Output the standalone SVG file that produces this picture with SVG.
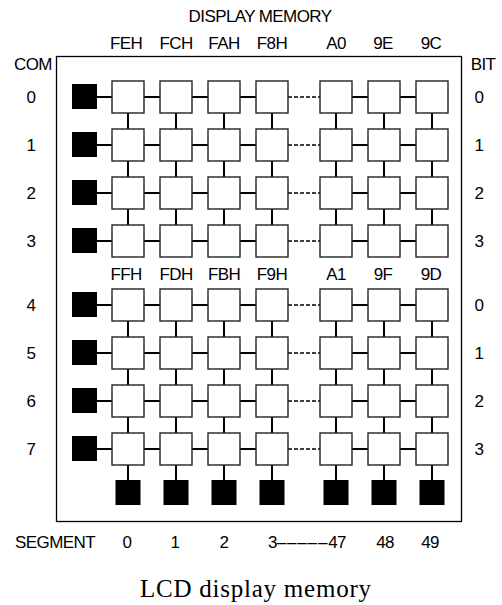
<svg xmlns="http://www.w3.org/2000/svg" width="502" height="605" viewBox="0 0 502 605">
<style>
.t{font-family:"Liberation Sans",Arial,sans-serif;font-size:17px;letter-spacing:-0.6px;fill:#000;text-anchor:middle}
.cap{font-family:"Liberation Serif","Times New Roman",serif;font-size:25px;fill:#000}
.cell{fill:#fff;stroke:#222;stroke-width:1.4}
.blk{fill:#000}
.con{fill:none;stroke:#000;stroke-width:2}
.dash{fill:none;stroke:#000;stroke-width:1.5;stroke-dasharray:4 2}
.frame{fill:none;stroke:#000;stroke-width:1.3}
</style>
<rect width="502" height="605" fill="#fff"/>
<g id="frame"><rect class="frame" x="56.5" y="56.5" width="405" height="465"/></g>
<g id="connectors">
<path class="con" d="M97 97H112M144 97H160M192 97H208M240 97H256M352 97H368M400 97H416"/>
<path class="con" d="M97 145H112M144 145H160M192 145H208M240 145H256M352 145H368M400 145H416"/>
<path class="con" d="M97 193H112M144 193H160M192 193H208M240 193H256M352 193H368M400 193H416"/>
<path class="con" d="M97 241H112M144 241H160M192 241H208M240 241H256M352 241H368M400 241H416"/>
<path class="con" d="M97 305H112M144 305H160M192 305H208M240 305H256M352 305H368M400 305H416"/>
<path class="con" d="M97 353H112M144 353H160M192 353H208M240 353H256M352 353H368M400 353H416"/>
<path class="con" d="M97 401H112M144 401H160M192 401H208M240 401H256M352 401H368M400 401H416"/>
<path class="con" d="M97 449H112M144 449H160M192 449H208M240 449H256M352 449H368M400 449H416"/>
<path class="dash" d="M288 97H320M288 145H320M288 193H320M288 241H320M288 305H320M288 353H320M288 401H320M288 449H320"/>
<path class="con" d="M128 113V129M128 161V177M128 209V225M128 321V337M128 369V385M128 417V433M128 465V480"/>
<path class="con" d="M176 113V129M176 161V177M176 209V225M176 321V337M176 369V385M176 417V433M176 465V480"/>
<path class="con" d="M224 113V129M224 161V177M224 209V225M224 321V337M224 369V385M224 417V433M224 465V480"/>
<path class="con" d="M272 113V129M272 161V177M272 209V225M272 321V337M272 369V385M272 417V433M272 465V480"/>
<path class="con" d="M336 113V129M336 161V177M336 209V225M336 321V337M336 369V385M336 417V433M336 465V480"/>
<path class="con" d="M384 113V129M384 161V177M384 209V225M384 321V337M384 369V385M384 417V433M384 465V480"/>
<path class="con" d="M432 113V129M432 161V177M432 209V225M432 321V337M432 369V385M432 417V433M432 465V480"/>
</g>
<g id="com-drivers">
<g id="com0"><rect class="blk" x="72" y="84" width="25" height="25"/></g>
<g id="com1"><rect class="blk" x="72" y="132" width="25" height="25"/></g>
<g id="com2"><rect class="blk" x="72" y="180" width="25" height="25"/></g>
<g id="com3"><rect class="blk" x="72" y="228" width="25" height="25"/></g>
<g id="com4"><rect class="blk" x="72" y="292" width="25" height="25"/></g>
<g id="com5"><rect class="blk" x="72" y="340" width="25" height="25"/></g>
<g id="com6"><rect class="blk" x="72" y="388" width="25" height="25"/></g>
<g id="com7"><rect class="blk" x="72" y="436" width="25" height="25"/></g>
</g>
<g id="seg-drivers">
<g id="seg0"><rect class="blk" x="115.5" y="480" width="25" height="25"/></g>
<g id="seg1"><rect class="blk" x="163.5" y="480" width="25" height="25"/></g>
<g id="seg2"><rect class="blk" x="211.5" y="480" width="25" height="25"/></g>
<g id="seg3"><rect class="blk" x="259.5" y="480" width="25" height="25"/></g>
<g id="seg47"><rect class="blk" x="323.5" y="480" width="25" height="25"/></g>
<g id="seg48"><rect class="blk" x="371.5" y="480" width="25" height="25"/></g>
<g id="seg49"><rect class="blk" x="419.5" y="480" width="25" height="25"/></g>
</g>
<g id="cells">
<g id="r0c0"><rect class="cell" x="112" y="81" width="32" height="32"/></g>
<g id="r0c1"><rect class="cell" x="160" y="81" width="32" height="32"/></g>
<g id="r0c2"><rect class="cell" x="208" y="81" width="32" height="32"/></g>
<g id="r0c3"><rect class="cell" x="256" y="81" width="32" height="32"/></g>
<g id="r0c4"><rect class="cell" x="320" y="81" width="32" height="32"/></g>
<g id="r0c5"><rect class="cell" x="368" y="81" width="32" height="32"/></g>
<g id="r0c6"><rect class="cell" x="416" y="81" width="32" height="32"/></g>
<g id="r1c0"><rect class="cell" x="112" y="129" width="32" height="32"/></g>
<g id="r1c1"><rect class="cell" x="160" y="129" width="32" height="32"/></g>
<g id="r1c2"><rect class="cell" x="208" y="129" width="32" height="32"/></g>
<g id="r1c3"><rect class="cell" x="256" y="129" width="32" height="32"/></g>
<g id="r1c4"><rect class="cell" x="320" y="129" width="32" height="32"/></g>
<g id="r1c5"><rect class="cell" x="368" y="129" width="32" height="32"/></g>
<g id="r1c6"><rect class="cell" x="416" y="129" width="32" height="32"/></g>
<g id="r2c0"><rect class="cell" x="112" y="177" width="32" height="32"/></g>
<g id="r2c1"><rect class="cell" x="160" y="177" width="32" height="32"/></g>
<g id="r2c2"><rect class="cell" x="208" y="177" width="32" height="32"/></g>
<g id="r2c3"><rect class="cell" x="256" y="177" width="32" height="32"/></g>
<g id="r2c4"><rect class="cell" x="320" y="177" width="32" height="32"/></g>
<g id="r2c5"><rect class="cell" x="368" y="177" width="32" height="32"/></g>
<g id="r2c6"><rect class="cell" x="416" y="177" width="32" height="32"/></g>
<g id="r3c0"><rect class="cell" x="112" y="225" width="32" height="32"/></g>
<g id="r3c1"><rect class="cell" x="160" y="225" width="32" height="32"/></g>
<g id="r3c2"><rect class="cell" x="208" y="225" width="32" height="32"/></g>
<g id="r3c3"><rect class="cell" x="256" y="225" width="32" height="32"/></g>
<g id="r3c4"><rect class="cell" x="320" y="225" width="32" height="32"/></g>
<g id="r3c5"><rect class="cell" x="368" y="225" width="32" height="32"/></g>
<g id="r3c6"><rect class="cell" x="416" y="225" width="32" height="32"/></g>
<g id="r4c0"><rect class="cell" x="112" y="289" width="32" height="32"/></g>
<g id="r4c1"><rect class="cell" x="160" y="289" width="32" height="32"/></g>
<g id="r4c2"><rect class="cell" x="208" y="289" width="32" height="32"/></g>
<g id="r4c3"><rect class="cell" x="256" y="289" width="32" height="32"/></g>
<g id="r4c4"><rect class="cell" x="320" y="289" width="32" height="32"/></g>
<g id="r4c5"><rect class="cell" x="368" y="289" width="32" height="32"/></g>
<g id="r4c6"><rect class="cell" x="416" y="289" width="32" height="32"/></g>
<g id="r5c0"><rect class="cell" x="112" y="337" width="32" height="32"/></g>
<g id="r5c1"><rect class="cell" x="160" y="337" width="32" height="32"/></g>
<g id="r5c2"><rect class="cell" x="208" y="337" width="32" height="32"/></g>
<g id="r5c3"><rect class="cell" x="256" y="337" width="32" height="32"/></g>
<g id="r5c4"><rect class="cell" x="320" y="337" width="32" height="32"/></g>
<g id="r5c5"><rect class="cell" x="368" y="337" width="32" height="32"/></g>
<g id="r5c6"><rect class="cell" x="416" y="337" width="32" height="32"/></g>
<g id="r6c0"><rect class="cell" x="112" y="385" width="32" height="32"/></g>
<g id="r6c1"><rect class="cell" x="160" y="385" width="32" height="32"/></g>
<g id="r6c2"><rect class="cell" x="208" y="385" width="32" height="32"/></g>
<g id="r6c3"><rect class="cell" x="256" y="385" width="32" height="32"/></g>
<g id="r6c4"><rect class="cell" x="320" y="385" width="32" height="32"/></g>
<g id="r6c5"><rect class="cell" x="368" y="385" width="32" height="32"/></g>
<g id="r6c6"><rect class="cell" x="416" y="385" width="32" height="32"/></g>
<g id="r7c0"><rect class="cell" x="112" y="433" width="32" height="32"/></g>
<g id="r7c1"><rect class="cell" x="160" y="433" width="32" height="32"/></g>
<g id="r7c2"><rect class="cell" x="208" y="433" width="32" height="32"/></g>
<g id="r7c3"><rect class="cell" x="256" y="433" width="32" height="32"/></g>
<g id="r7c4"><rect class="cell" x="320" y="433" width="32" height="32"/></g>
<g id="r7c5"><rect class="cell" x="368" y="433" width="32" height="32"/></g>
<g id="r7c6"><rect class="cell" x="416" y="433" width="32" height="32"/></g>
</g>
<g id="labels">
<text class="t" x="260" y="22">DISPLAY MEMORY</text>
<text class="t" x="126" y="49">FEH</text>
<text class="t" x="176" y="49">FCH</text>
<text class="t" x="224" y="49">FAH</text>
<text class="t" x="272" y="49">F8H</text>
<text class="t" x="336" y="49">A0</text>
<text class="t" x="383" y="49">9E</text>
<text class="t" x="431" y="49">9C</text>
<text class="t" x="126" y="280">FFH</text>
<text class="t" x="176" y="280">FDH</text>
<text class="t" x="224" y="280">FBH</text>
<text class="t" x="272" y="280">F9H</text>
<text class="t" x="336" y="280">A1</text>
<text class="t" x="383" y="280">9F</text>
<text class="t" x="431" y="280">9D</text>
<text class="t" x="33" y="70">COM</text>
<text class="t" x="483" y="70">BIT</text>
<text class="t" x="31" y="103">0</text>
<text class="t" x="31" y="151">1</text>
<text class="t" x="31" y="199">2</text>
<text class="t" x="31" y="247">3</text>
<text class="t" x="31" y="311">4</text>
<text class="t" x="31" y="359">5</text>
<text class="t" x="31" y="407">6</text>
<text class="t" x="31" y="455">7</text>
<text class="t" x="479" y="103">0</text>
<text class="t" x="479" y="151">1</text>
<text class="t" x="479" y="199">2</text>
<text class="t" x="479" y="247">3</text>
<text class="t" x="479" y="311">0</text>
<text class="t" x="479" y="359">1</text>
<text class="t" x="479" y="407">2</text>
<text class="t" x="479" y="455">3</text>
<text class="t" x="55" y="548">SEGMENT</text>
<text class="t" x="127" y="548">0</text>
<text class="t" x="175" y="548">1</text>
<text class="t" x="224" y="548">2</text>
<text class="t" x="268" y="548" style="text-anchor:start">3<tspan letter-spacing="0.8">–––––</tspan>47</text>
<text class="t" x="385" y="548">48</text>
<text class="t" x="430" y="548">49</text>
<text class="cap" x="140" y="597" textLength="231" lengthAdjust="spacing">LCD display memory</text>
</g>
</svg>
